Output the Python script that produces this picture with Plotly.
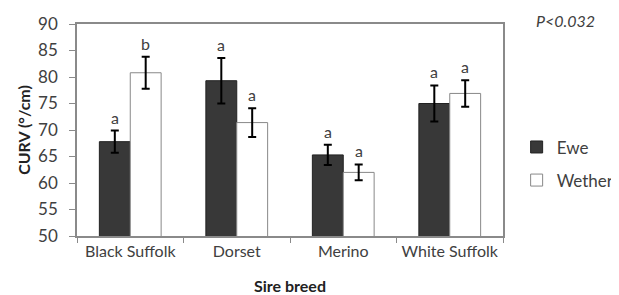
import plotly.graph_objects as go

categories = ["Black Suffolk", "Dorset", "Merino", "White Suffolk"]
ewe = [67.8, 79.3, 65.3, 75.0]
ewe_err = [2.1, 4.3, 1.9, 3.4]
wether = [80.8, 71.4, 62.0, 76.9]
wether_err = [3.0, 2.7, 1.5, 2.5]
ewe_letters = ["a", "a", "a", "a"]
wether_letters = ["b", "a", "a", "a"]

FONT = "Lato, Open Sans, sans-serif"
TXT = "#404040"

fig = go.Figure()
fig.add_trace(go.Bar(
    name="Ewe", x=categories, y=ewe, legendgroup="g1",
    marker=dict(color="#383838", line=dict(color="#222222", width=1)),
    error_y=dict(type="data", array=ewe_err, color="black", thickness=2, width=4),
))
fig.add_trace(go.Bar(
    name="Wether", x=categories, y=wether, legendgroup="g2",
    marker=dict(color="white", line=dict(color="#888888", width=1)),
    error_y=dict(type="data", array=wether_err, color="black", thickness=2, width=4),
))

off = 0.145
for i, c in enumerate(categories):
    fig.add_annotation(x=i - off, y=ewe[i] + ewe_err[i], text=ewe_letters[i],
                       showarrow=False, yanchor="bottom", yshift=2,
                       font=dict(family=FONT, size=16, color=TXT))
    fig.add_annotation(x=i + off, y=wether[i] + wether_err[i], text=wether_letters[i],
                       showarrow=False, yanchor="bottom", yshift=2,
                       font=dict(family=FONT, size=16, color=TXT))

fig.add_annotation(xref="paper", yref="paper", x=1.0, y=1.0, xshift=31, yshift=4,
                   text="<i>P<0.032</i>", showarrow=False, xanchor="left", yanchor="middle",
                   font=dict(family=FONT, size=16, color=TXT))

fig.update_layout(
    width=619, height=295,
    margin=dict(l=69, r=124, t=16, b=67, autoexpand=False),
    plot_bgcolor="white", paper_bgcolor="white",
    barmode="group", bargap=0.42, bargroupgap=0,
    font=dict(family=FONT, color=TXT),
    legend=dict(x=1.032, y=0.34, xanchor="left", yanchor="middle",
                font=dict(family=FONT, size=17, color=TXT),
                traceorder="grouped", tracegroupgap=8, itemwidth=30,
                bgcolor="rgba(0,0,0,0)"),
    xaxis=dict(
        type="category", range=[-0.5, 3.5], automargin=False, tickangle=0,
        showline=True, linecolor="#8a8a8a", linewidth=1.5, mirror=True,
        ticks="outside", tickson="boundaries", ticklen=5, tickcolor="#8a8a8a",
        tickfont=dict(family=FONT, size=16, color=TXT),
        title=dict(text="<b>Sire breed</b>", font=dict(family=FONT, size=16, color="#222222"), standoff=22),
        showgrid=False,
    ),
    yaxis=dict(
        range=[50, 90], dtick=5, automargin=False,
        showline=True, linecolor="#8a8a8a", linewidth=1.5, mirror=True,
        ticks="outside", ticklen=6, tickcolor="#8a8a8a", ticklabelstandoff=8,
        tickfont=dict(family=FONT, size=17, color=TXT),
        title=dict(text="<b>CURV (°/cm)</b>", font=dict(family=FONT, size=16, color="#222222"), standoff=4),
        showgrid=False, zeroline=False,
    ),
)

fig.write_html("out.html")
